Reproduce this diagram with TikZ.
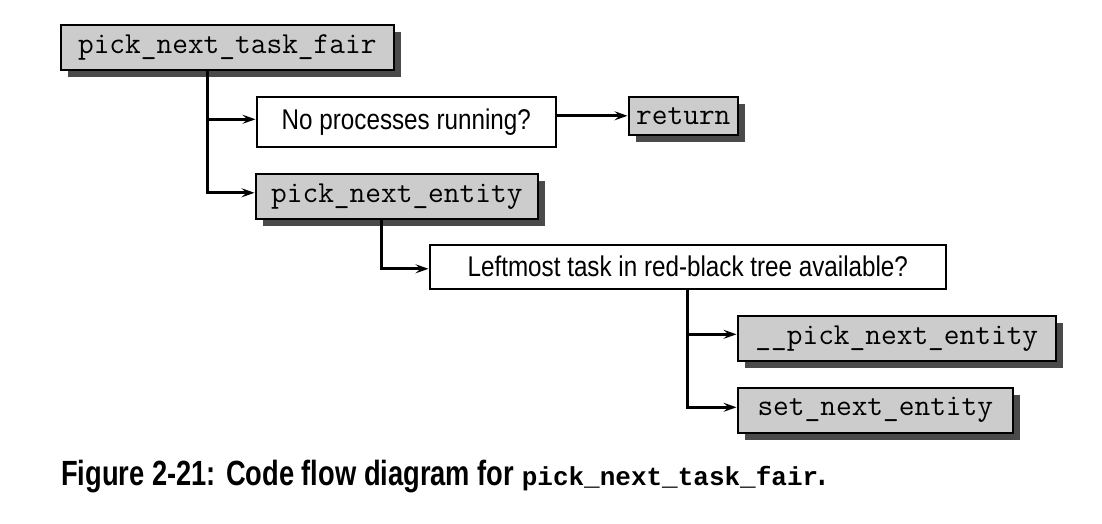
\documentclass[tikz,border=0pt]{standalone}
\usepackage{fontspec}
\setmainfont{Liberation Sans}
\newfontfamily\condfont[FakeStretch=0.85]{Liberation Sans}
\newfontfamily\capfont[FakeStretch=0.78]{Liberation Sans}
\newfontfamily\capmono{Liberation Mono}
\usetikzlibrary{arrows.meta,shadows}
\definecolor{boxgray}{HTML}{CCCCCC}
\definecolor{shadowgray}{HTML}{4A4A4A}
\begin{document}
\begin{tikzpicture}[x=1pt,y=-1pt,
  codebox/.style={draw=black, line width=1.6pt, fill=boxgray, inner sep=0pt,
    minimum height=45pt, anchor=north west,
    font=\fontsize{30.5}{34}\selectfont\ttfamily,
    general shadow={fill=shadowgray, shadow xshift=7.5pt, shadow yshift=-7.5pt}},
  askbox/.style={draw=black, line width=1.6pt, fill=white, inner sep=0pt,
    anchor=north west, font=\fontsize{28.5}{32}\selectfont\condfont},
  conn/.style={line width=2.8pt, -{Stealth[length=13pt,width=9pt,inset=5pt]}, shorten >=0.5pt}]
\useasboundingbox[fill=white] (0,0) rectangle (1102,524);

\node[codebox, minimum width=333pt] (A) at (60,24) {pick\_next\_task\_fair};
\node[askbox, minimum width=299pt, minimum height=50pt] (B) at (256,96) {No processes running?};
\node[codebox, minimum width=109pt, minimum height=38pt] (C) at (628,96) {return};
\node[codebox, minimum width=282pt] (D) at (255,173) {pick\_next\_entity};
\node[askbox, minimum width=516pt, minimum height=44pt] (E) at (429,244) {Leftmost task in red-black tree available?};
\node[codebox, minimum width=318pt] (F) at (737,315) {\_\_pick\_next\_entity};
\node[codebox, minimum width=275pt] (G) at (737,387) {set\_next\_entity};

\coordinate (Atrunk) at ([xshift=-19.5pt]A.south);
\coordinate (Dtrunk) at ([xshift=-15pt]D.south);
\draw[conn] (Atrunk) |- ([yshift=2.5pt]B.west);
\draw[conn] (Atrunk) |- ([yshift=3.5pt]D.west);
\draw[conn] (B.east |- C.west) -- (C.west);
\draw[conn] (Dtrunk) |- ([yshift=-2pt]E.west);
\draw[conn] (E.south) |- ([yshift=4pt]F.west);
\draw[conn] (E.south) |- ([yshift=3pt]G.west);

\node[anchor=base west, inner sep=0pt, font=\fontsize{35}{40}\selectfont\capfont\bfseries] (cap) at (61,485)
  {Figure 2-21: Code flow diagram for {\capmono\bfseries\fontsize{26}{30}\selectfont pick\_next\_task\_fair}.};
\end{tikzpicture}
\end{document}
